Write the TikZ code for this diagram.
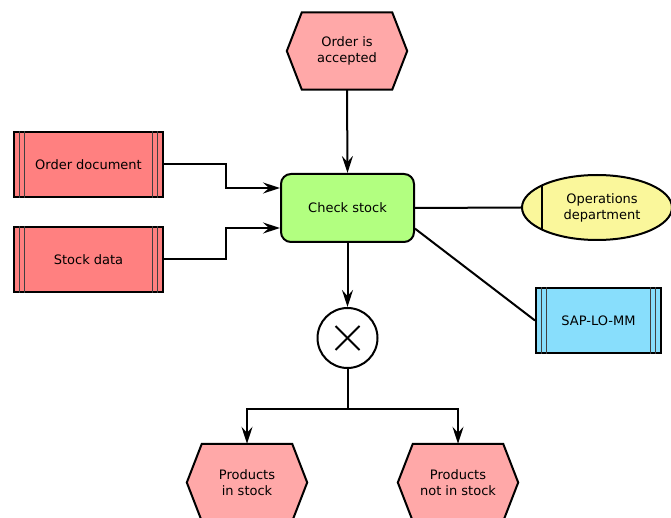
\documentclass[tikz,border=0pt]{standalone}
\usepackage{fontspec}
\setmainfont{DejaVu Sans}
\usetikzlibrary{arrows.meta,shapes.geometric,backgrounds,calc}

\definecolor{eventfill}{RGB}{255,168,168}
\definecolor{docfill}{RGB}{255,128,128}
\definecolor{funcfill}{RGB}{178,255,128}
\definecolor{orgfill}{RGB}{250,247,155}
\definecolor{sysfill}{RGB}{136,222,252}

\tikzset{
  every node/.style={font=\fontsize{13}{16}\selectfont, align=center, inner sep=0pt},
  flow/.style={line width=2pt, -{Stealth[length=17pt,width=11pt,inset=6pt]}},
  link/.style={line width=2pt},
  eventbox/.style={minimum width=120pt, minimum height=77pt},
  eventedge/.style={line width=2pt, fill=eventfill},
  docbox/.style={draw, line width=2pt, fill=docfill, minimum width=149pt, minimum height=65pt},
  sysbox/.style={draw, line width=2pt, fill=sysfill, minimum width=125pt, minimum height=65pt},
  funcbox/.style={draw, line width=2pt, fill=funcfill, rounded corners=10pt,
    minimum width=133pt, minimum height=68pt},
  orgunit/.style={draw, ellipse, line width=2pt, fill=orgfill,
    minimum width=150pt, minimum height=65pt,
    path picture={\draw[line width=1.8pt]
      ([xshift=-55pt]path picture bounding box.north) --
      ([xshift=-55pt]path picture bounding box.south);}},
  xorgate/.style={draw, circle, line width=2pt, fill=white, minimum size=60pt},
}

% hexagonal event outline drawn behind a named node
\newcommand\eventshape[1]{%
  \begin{scope}[on background layer]
    \draw[eventedge] (#1.west) -- ([xshift=15pt]#1.north west) --
      ([xshift=-15pt]#1.north east) -- (#1.east) --
      ([xshift=-15pt]#1.south east) -- ([xshift=15pt]#1.south west) -- cycle;
  \end{scope}}

% double vertical bars at both sides of a box
\newcommand\sidebars[1]{%
  \foreach \d in {6.5pt,11.5pt}{
    \draw[line width=1.1pt, black!75] ([xshift=\d]#1.north west) -- ([xshift=\d]#1.south west);
    \draw[line width=1.1pt, black!75] ([xshift=-\d]#1.north east) -- ([xshift=-\d]#1.south east);
  }}

\begin{document}
\begin{tikzpicture}[x=1pt,y=-1pt]
  \useasboundingbox (0,0) rectangle (671,518);
  \clip (0,0) rectangle (671,518);

  % events
  \node[eventbox] (accepted) at (347,51) {Order is\\accepted};
  \eventshape{accepted}
  \node[eventbox] (instock) at (247,482.5) {Products\\in stock};
  \eventshape{instock}
  \node[eventbox] (notstock) at (458,482.5) {Products\\not in stock};
  \eventshape{notstock}

  % function
  \node[funcbox] (check) at (347.5,208) {Check stock};

  % information objects
  \node[docbox] (orderdoc) at (88.5,164.5) {Order document};
  \sidebars{orderdoc}
  \node[docbox] (stockdata) at (88.5,259.5) {Stock data};
  \sidebars{stockdata}

  % organisational unit
  \node[orgunit] (ops) at (597,207.5) {};
  \node (opstext) at (602,208) {Operations\\department};

  % application system
  \node[sysbox] (sap) at (598.5,320.5) {SAP-LO-MM};
  \sidebars{sap}

  % XOR connector
  \node[xorgate] (xor) at (347.5,338) {};
  \draw[line width=1.8pt] ($(xor.center)+(-12,-12)$) -- ($(xor.center)+(12,12)$);
  \draw[line width=1.8pt] ($(xor.center)+(-12,12)$) -- ($(xor.center)+(12,-12)$);

  % control flow
  \draw[flow] (accepted.south) -- (check.north);
  \draw[flow] (orderdoc.east) -- ++(62,0) |- ($(check.west)+(0,-20)$);
  \draw[flow] (stockdata.east) -- ++(62,0) |- ($(check.west)+(0,20)$);
  \draw[flow] (check.south) -- (xor.north);
  \draw[link] (xor.south) -- ++(0,40) coordinate (split);
  \draw[flow] (split) -| (instock.north);
  \draw[flow] (split) -| (notstock.north);

  % assignments
  \draw[link] (check.east) -- (ops.west);
  \draw[link] (check.-17) -- (sap.west);
\end{tikzpicture}
\end{document}
